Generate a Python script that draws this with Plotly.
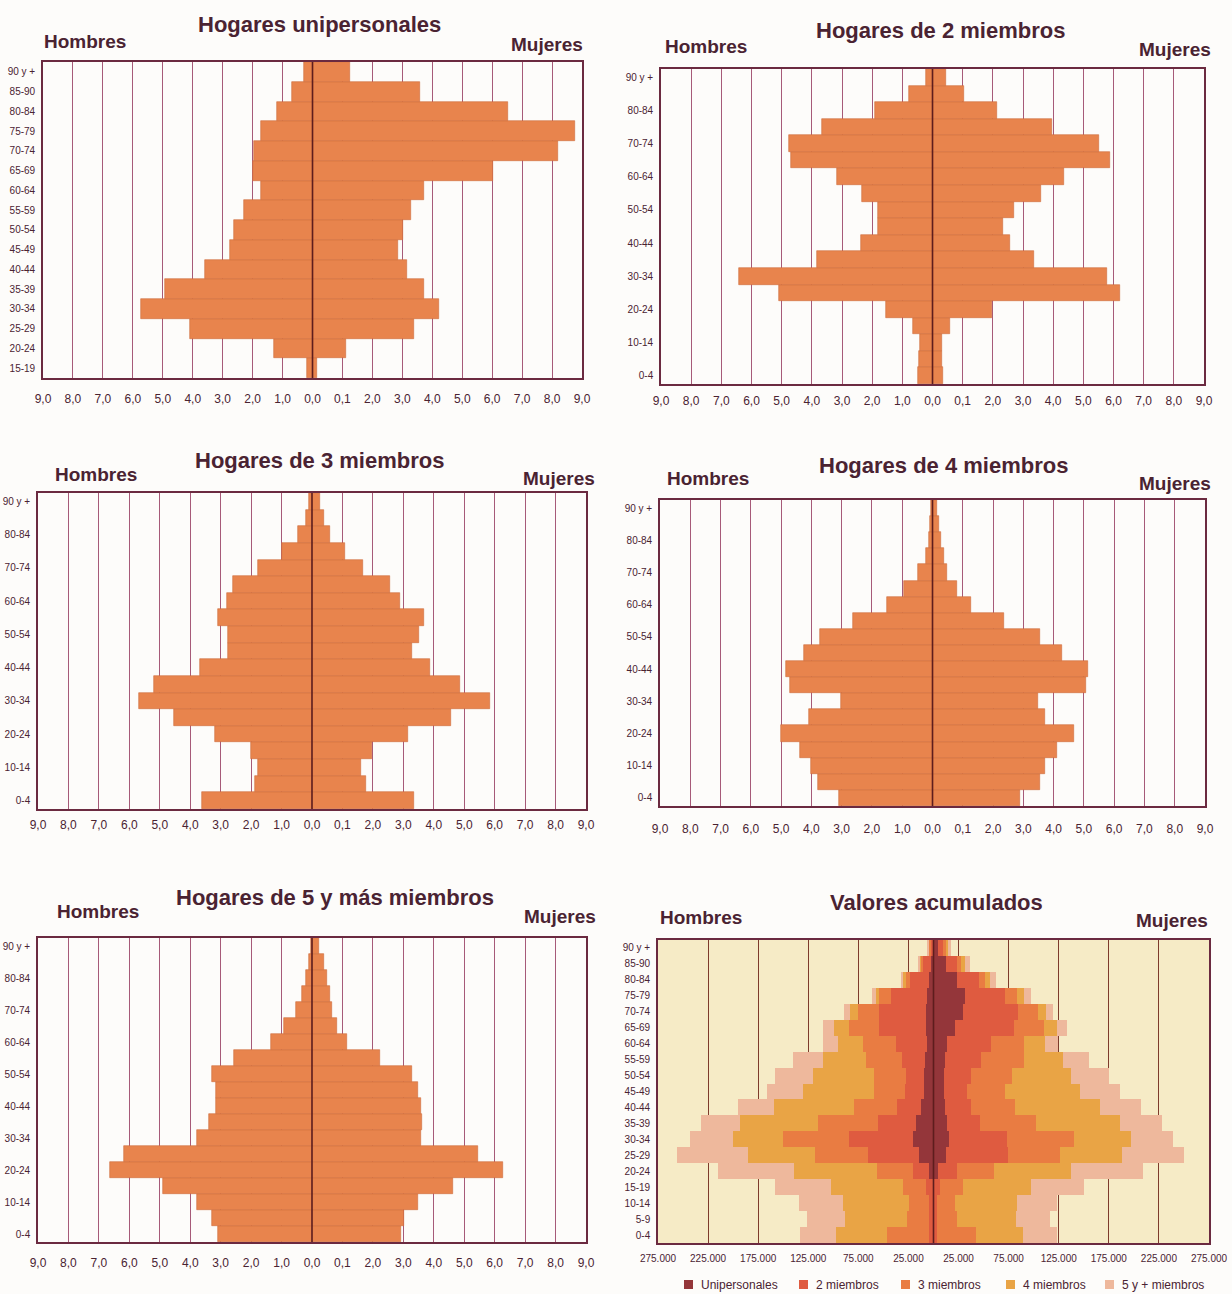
import plotly.graph_objects as go

W, H = 1232, 1294

# ---------------- data ----------------
ages = ["0-4", "5-9", "10-14", "15-19", "20-24", "25-29", "30-34", "35-39", "40-44",
        "45-49", "50-54", "55-59", "60-64", "65-69", "70-74", "75-79", "80-84", "85-90", "90 y +"]
ages_uni = ages[3:]
ticks_every_other = ["0-4", "10-14", "20-24", "30-34", "40-44", "50-54", "60-64", "70-74", "80-84", "90 y +"]

# percentages (%), Hombres / Mujeres
uni_h = [0.17, 1.28, 4.10, 5.72, 4.93, 3.59, 2.75, 2.62, 2.28, 1.73, 1.99, 1.96, 1.73, 1.18, 0.68, 0.28]
uni_m = [0.15, 1.13, 3.40, 4.23, 3.71, 3.14, 2.86, 3.03, 3.28, 3.74, 6.02, 8.20, 8.75, 6.53, 3.59, 1.26]
m2_h = [0.48, 0.46, 0.42, 0.65, 1.54, 5.08, 6.41, 3.82, 2.38, 1.82, 1.82, 2.34, 3.16, 4.69, 4.75, 3.65, 1.89, 0.78, 0.23]
m2_m = [0.35, 0.33, 0.33, 0.59, 1.98, 6.22, 5.79, 3.35, 2.58, 2.34, 2.70, 3.58, 4.36, 5.89, 5.53, 3.97, 2.15, 1.04, 0.46]
m3_h = [3.62, 1.88, 1.76, 2.02, 3.18, 4.54, 5.67, 5.19, 3.68, 2.76, 2.76, 3.09, 2.80, 2.59, 1.77, 0.98, 0.45, 0.20, 0.10]
m3_m = [3.35, 1.76, 1.60, 1.97, 3.14, 4.55, 5.84, 4.86, 3.88, 3.29, 3.52, 3.69, 2.89, 2.56, 1.66, 1.09, 0.59, 0.40, 0.25]
m4_h = [3.09, 3.77, 4.00, 4.36, 5.01, 4.07, 3.03, 4.72, 4.85, 4.24, 3.72, 2.64, 1.51, 0.95, 0.49, 0.23, 0.10, 0.07, 0.04]
m4_m = [2.89, 3.54, 3.73, 4.12, 4.68, 3.71, 3.47, 5.06, 5.12, 4.29, 3.54, 2.37, 1.26, 0.81, 0.48, 0.39, 0.29, 0.22, 0.15]
m5_h = [3.10, 3.27, 3.79, 4.90, 6.63, 6.16, 3.77, 3.39, 3.14, 3.14, 3.29, 2.55, 1.34, 0.92, 0.54, 0.34, 0.19, 0.09, 0.04]
m5_m = [2.93, 3.02, 3.49, 4.62, 6.28, 5.44, 3.58, 3.61, 3.58, 3.49, 3.30, 2.24, 1.16, 0.82, 0.67, 0.59, 0.50, 0.41, 0.23]

# accumulated values (persons)
acc_uni_h = [0, 0, 0, 600, 4600, 14800, 20600, 17700, 12900, 9900, 9400, 8200, 6200, 7200, 7100, 6200, 4200, 2400, 1000]
acc_uni_m = [0, 0, 0, 500, 4100, 12200, 15200, 13400, 11300, 10300, 10900, 11800, 13500, 21700, 29500, 31500, 23500, 12900, 4500]
acc_2_h = [4800, 4600, 4200, 6500, 15400, 50800, 64100, 38200, 23800, 18200, 18200, 23400, 31600, 46900, 47500, 36500, 18900, 7800, 2300]
acc_2_m = [3500, 3300, 3300, 5900, 19800, 62200, 57900, 33500, 25800, 23400, 27000, 35800, 43600, 58900, 55300, 39700, 21500, 10400, 4600]
acc_3_h = [41600, 21600, 20200, 23200, 36600, 52200, 65200, 59700, 42300, 31700, 31700, 35500, 32200, 29800, 20400, 11300, 5200, 2300, 1200]
acc_3_m = [38500, 20200, 18400, 22700, 36100, 52300, 67200, 55900, 44600, 37800, 40500, 42400, 33200, 29400, 19100, 12500, 6800, 4600, 2900]
acc_4_h = [51000, 62200, 66000, 71900, 82700, 67200, 50000, 77900, 80000, 70000, 61400, 43600, 24900, 15700, 8100, 3800, 1700, 1200, 700]
acc_4_m = [47700, 58400, 61500, 68000, 77200, 61200, 57300, 83500, 84500, 74500, 58400, 39100, 20800, 13400, 7900, 6400, 4800, 3600, 2500]
acc_5_h = [35700, 37600, 43600, 56400, 76200, 70800, 43400, 39000, 36100, 36100, 37800, 29300, 15400, 10600, 6200, 3900, 2200, 1000, 500]
acc_5_m = [33700, 34700, 40100, 53100, 72200, 62600, 41200, 41500, 41200, 40100, 38000, 25800, 13300, 9400, 7700, 6800, 5800, 4700, 2600]

pct_ticks = [-9, -8, -7, -6, -5, -4, -3, -2, -1, 0, 1, 2, 3, 4, 5, 6, 7, 8, 9]
pct_ticktext = ["9,0", "8,0", "7,0", "6,0", "5,0", "4,0", "3,0", "2,0", "1,0", "0,0",
                "0,1", "2,0", "3,0", "4,0", "5,0", "6,0", "7,0", "8,0", "9,0"]
acc_ticks = [-275000, -225000, -175000, -125000, -75000, -25000, 25000, 75000, 125000, 175000, 225000, 275000]
acc_ticktext = ["275.000", "225.000", "175.000", "125.000", "75.000", "25.000",
                "25.000", "75.000", "125.000", "175.000", "225.000", "275.000"]

type_names = ["Unipersonales", "2 miembros", "3 miembros", "4 miembros", "5 y + miembros"]
type_colors = ["#94363a", "#df5b40", "#e97c42", "#e9a445", "#eeb89c"]

# ---------------- styles ----------------
BAR = "#e8844d"
BAR_LINE = "#cf6a3b"
FRAME = "#6b2a40"
GRID = "#a65a78"
GRID6 = "#7e3b2c"
TXT = "#4a2332"
PAGE = "#fdfcfa"
CREAM = "#f6ebc6"
FONT = "Liberation Sans, Arial, sans-serif"

# panel frames in px: (left, top, right, bottom)
frames = {
    1: (43, 62, 582, 378),
    2: (661, 69, 1204, 384),
    3: (38, 493, 586, 809),
    4: (660, 500, 1205, 806),
    5: (38, 938, 586, 1242),
    6: (658, 940, 1209, 1243),
}
xlab_len = {1: 9, 2: 5, 3: 4, 4: 11, 5: 9, 6: 5}


def xd(l, r):
    return [l / W, r / W]


def yd(t, b):
    return [1 - b / H, 1 - t / H]


fig = go.Figure()

pyramids = [
    (1, ages_uni, uni_h, uni_m, ages_uni),
    (2, ages, m2_h, m2_m, ticks_every_other),
    (3, ages, m3_h, m3_m, ticks_every_other),
    (4, ages, m4_h, m4_m, ticks_every_other),
    (5, ages, m5_h, m5_m, ticks_every_other),
]

layout_axes = {}
for i, cats, hv, mv, tv in pyramids:
    ax = "" if i == 1 else str(i)
    fig.add_trace(go.Bar(y=cats, x=[-v for v in hv], orientation="h", name="Hombres",
                         marker=dict(color=BAR, line=dict(color=BAR_LINE, width=0.6)),
                         xaxis="x" + ax, yaxis="y" + ax, showlegend=False))
    fig.add_trace(go.Bar(y=cats, x=mv, orientation="h", name="Mujeres",
                         marker=dict(color=BAR, line=dict(color=BAR_LINE, width=0.6)),
                         xaxis="x" + ax, yaxis="y" + ax, showlegend=False))
    l, t, r, b = frames[i]
    layout_axes["xaxis" + ax] = dict(
        domain=xd(l, r), anchor="y" + ax, range=[-9, 9], tickvals=pct_ticks, ticktext=pct_ticktext,
        showgrid=True, gridcolor=GRID, gridwidth=1, zeroline=False, automargin=False,
        showline=True, mirror=True, linecolor=FRAME, linewidth=1.6,
        ticks="outside", ticklen=xlab_len[i], tickcolor="rgba(0,0,0,0)",
        tickfont=dict(size=12, color=TXT, family=FONT), fixedrange=True)
    layout_axes["yaxis" + ax] = dict(
        domain=yd(t, b), anchor="x" + ax, type="category", categoryorder="array",
        categoryarray=cats, tickvals=tv, range=[-0.5, len(cats) - 0.5], automargin=False,
        showgrid=False, zeroline=False, showline=True, mirror=True, linecolor=FRAME, linewidth=1.6,
        ticks="outside", ticklen=4, tickcolor="rgba(0,0,0,0)",
        tickfont=dict(size=10, color=TXT, family=FONT), fixedrange=True)

# accumulated panel
acc_h = [acc_uni_h, acc_2_h, acc_3_h, acc_4_h, acc_5_h]
acc_m = [acc_uni_m, acc_2_m, acc_3_m, acc_4_m, acc_5_m]
for k in range(5):
    fig.add_trace(go.Bar(y=ages, x=[-v for v in acc_h[k]], orientation="h", name=type_names[k],
                         marker=dict(color=type_colors[k], line=dict(width=0)),
                         xaxis="x6", yaxis="y6", showlegend=False))
for k in range(5):
    fig.add_trace(go.Bar(y=ages, x=acc_m[k], orientation="h", name=type_names[k],
                         marker=dict(color=type_colors[k], line=dict(width=0)),
                         xaxis="x6", yaxis="y6", showlegend=False))
l, t, r, b = frames[6]
layout_axes["xaxis6"] = dict(
    domain=xd(l, r), anchor="y6", range=[-275000, 275000], tickvals=acc_ticks, ticktext=acc_ticktext,
    showgrid=True, gridcolor=GRID6, gridwidth=1, zeroline=False, automargin=False,
    showline=True, mirror=True, linecolor=FRAME, linewidth=1.6,
    ticks="outside", ticklen=xlab_len[6], tickcolor="rgba(0,0,0,0)",
    tickfont=dict(size=10, color=TXT, family=FONT), fixedrange=True)
layout_axes["yaxis6"] = dict(
    domain=yd(t, b), anchor="x6", type="category", categoryorder="array",
    categoryarray=ages, tickvals=ages, range=[-0.5, len(ages) - 0.5], automargin=False,
    showgrid=False, zeroline=False, showline=True, mirror=True, linecolor=FRAME, linewidth=1.6,
    ticks="outside", ticklen=4, tickcolor="rgba(0,0,0,0)",
    tickfont=dict(size=10, color=TXT, family=FONT), fixedrange=True)

# shapes: cream background for panel 6, center lines, legend squares
shapes = [dict(type="rect", xref="x6 domain", yref="y6 domain", x0=0, x1=1, y0=0, y1=1,
               fillcolor=CREAM, line=dict(width=0), layer="below")]
for i in range(1, 7):
    ax = "" if i == 1 else str(i)
    shapes.append(dict(type="line", xref="x" + ax, yref="y" + ax + " domain", x0=0, x1=0, y0=0, y1=1,
                       line=dict(color="#5e1d1d", width=1.6), layer="above"))

annotations = []


def ann(text, xpx, ypx, anchor, size, bold=True):
    annotations.append(dict(text="<b>%s</b>" % text if bold else text, xref="paper", yref="paper",
                            x=xpx / W, y=1 - ypx / H, xanchor=anchor, yanchor="middle",
                            showarrow=False, font=dict(size=size, color=TXT, family=FONT)))


titles = [
    ("Hogares unipersonales", 320, 25, 42, 41, 585, 45),
    ("Hogares de 2 miembros", 940, 31, 663, 46, 1213, 49),
    ("Hogares de 3 miembros", 320, 460, 53, 474, 597, 478),
    ("Hogares de 4 miembros", 943, 465, 665, 479, 1213, 483),
    ("Hogares de 5 y más miembros", 335, 897, 55, 911, 598, 916),
    ("Valores acumulados", 936, 902, 658, 917, 1210, 920),
]
for tt, tx, ty, hx, hy, mx, my in titles:
    ann(tt, tx, ty, "center", 22)
    ann("Hombres", hx, hy, "left", 19)
    ann("Mujeres", mx, my, "right", 19)

# legend for accumulated panel
leg_sq = [684, 799, 901, 1006, 1105]
leg_tx = [699, 814, 916, 1021, 1120]
for k in range(5):
    shapes.append(dict(type="rect", xref="paper", yref="paper",
                       x0=leg_sq[k] / W, x1=(leg_sq[k] + 9) / W,
                       y0=1 - 1289 / H, y1=1 - 1280 / H,
                       fillcolor=type_colors[k], line=dict(width=0)))
    ann(type_names[k], leg_tx[k], 1284.5, "left", 12, bold=False)

fig.update_layout(
    width=W, height=H, autosize=False,
    margin=dict(l=0, r=0, t=0, b=0, pad=0, autoexpand=False),
    paper_bgcolor=PAGE, plot_bgcolor=PAGE,
    barmode="relative", bargap=0,
    shapes=shapes, annotations=annotations, showlegend=False,
    font=dict(family=FONT, color=TXT),
    **layout_axes,
)

fig.write_html(
    "out.html",
    config={"responsive": False, "displayModeBar": False},
    post_script="document.body.style.margin='0';document.body.style.overflow='hidden';"
                "document.documentElement.style.overflow='hidden';",
)
